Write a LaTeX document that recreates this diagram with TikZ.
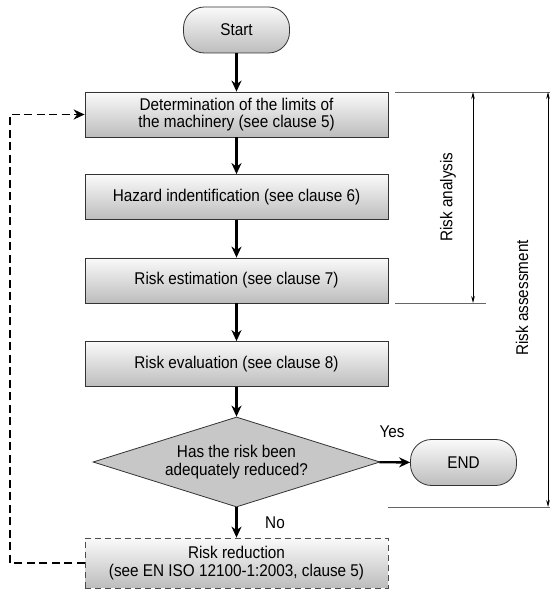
\documentclass[tikz,border=0pt]{standalone}
\usepackage{fontspec}
\setmainfont[FakeStretch=0.9]{Liberation Sans}
\usetikzlibrary{arrows.meta,shapes.geometric,calc}
\begin{document}
\begin{tikzpicture}[x=1pt,y=1pt,
  font=\fontsize{17}{17.6}\selectfont,
  proc/.style={draw=black!80, line width=0.8pt, top color=black!2, bottom color=black!26,
    minimum width=303pt, minimum height=45pt, align=center, inner sep=0pt},
  term/.style={proc, rounded corners=21pt, minimum width=106pt, minimum height=46pt},
  dec/.style={shape=diamond, draw=black!80, line width=0.8pt, fill=black!22,
    minimum width=287pt, minimum height=90pt, aspect=3.19, inner sep=0pt, align=center},
  redbox/.style={proc, draw=black!70, dash pattern=on 6pt off 4pt, minimum height=50pt},
  flow/.style={line width=2.3pt, -{Stealth[length=11pt,width=10pt]}},
  back/.style={line width=1.9pt, dash pattern=on 8pt off 4.5pt, -{Stealth[length=11pt,width=10pt]}},
  brline/.style={draw=black!60, line width=0.9pt},
  brarrow/.style={line width=0.6pt, {Stealth[length=7pt,width=3.5pt]}-{Stealth[length=7pt,width=3.5pt]}},
  lbl/.style={inner sep=0pt}
]
\useasboundingbox (0,0) rectangle (550,590);

\node[term] (start) at (236.5,560) {Start};
\node[proc] (b1) at (236.5,475.5) {Determination of the limits of\\the machinery (see clause 5)};
\node[proc] (b2) at (236.5,393) {Hazard indentification (see clause 6)};
\node[proc] (b3) at (236.5,309.5) {Risk estimation (see clause 7)};
\node[proc] (b4) at (236.5,226) {Risk evaluation (see clause 8)};
\node[dec] (dia) at (236.5,128) {Has the risk been\\adequately reduced?};
\node[term] (end) at (463.5,127.5) {END};
\node[redbox] (rr) at (236.5,27) {Risk reduction\\(see EN ISO 12100-1:2003, clause 5)};

\draw[flow] (start) -- (b1);
\draw[flow] (b1) -- (b2);
\draw[flow] (b2) -- (b3);
\draw[flow] (b3) -- (b4);
\draw[flow] (b4) -- (dia);
\draw[flow] (dia) -- (end);
\draw[flow] (dia) -- (rr);

\coordinate (fbl) at (10,27);
\draw[back] (rr.west) -- (fbl) |- (b1.west);

\node[lbl] (yes) at (392,158) {Yes};
\node[lbl] (no) at (275,67) {No};

% brackets
\coordinate (t1) at (395,498);
\coordinate (t2) at (550,498);
\coordinate (m1) at (395,287);
\coordinate (m2) at (486,287);
\coordinate (e1) at (388,83);
\coordinate (e2) at (550,83);
\draw[brline] (t1) -- (t2);
\draw[brline] (m1) -- (m2);
\draw[brline] (e1) -- (e2);
\coordinate (a1) at (473,498);
\coordinate (a2) at (473,287);
\coordinate (s1) at (548,498);
\coordinate (s2) at (548,83);
\draw[brarrow] (a1) -- (a2);
\draw[brarrow] (s1) -- (s2);
\node[lbl, rotate=90] (ra) at (448,393) {Risk analysis};
\node[lbl, rotate=90] (rs) at (522,292) {Risk assessment};
\end{tikzpicture}
\end{document}
